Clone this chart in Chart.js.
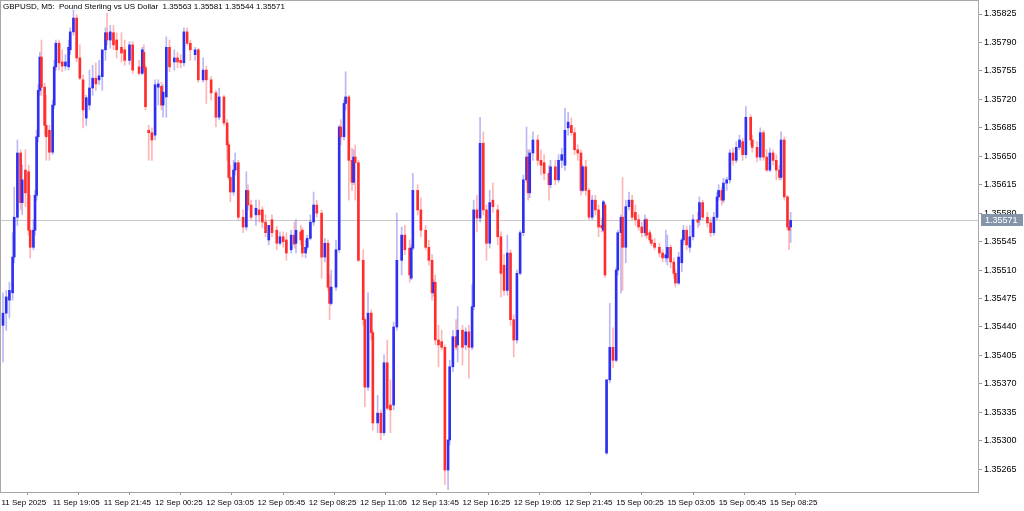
<!DOCTYPE html>
<html>
<head>
<meta charset="utf-8">
<script src="https://cdn.jsdelivr.net/npm/chart.js@4.4.1/dist/chart.umd.min.js"></script>
<style>
  html, body { margin: 0; padding: 0; background: #fff; }
</style>
</head>
<body>
<canvas id="chart" width="1024" height="511"></canvas>
<script>
const title = "GBPUSD, M5:  Pound Sterling vs US Dollar  1.35563 1.35581 1.35544 1.35571";

// one label every 32 bars (2h40m of M5)
const timeLabels = ["11 Sep 2025", "11 Sep 19:05", "11 Sep 21:45", "12 Sep 00:25", "12 Sep 03:05",
  "12 Sep 05:45", "12 Sep 08:25", "12 Sep 11:05", "12 Sep 13:45", "12 Sep 16:25", "12 Sep 19:05",
  "12 Sep 21:45", "15 Sep 00:25", "15 Sep 03:05", "15 Sep 05:45", "15 Sep 08:25"];
const barsPerLabel = 32;

const priceTicks = [1.35265, 1.35300, 1.35335, 1.35370, 1.35405, 1.35440, 1.35475, 1.35510, 1.35545,
  1.35580, 1.35615, 1.35650, 1.35685, 1.35720, 1.35755, 1.35790, 1.35825];

// bar number (M5 bars since 11 Sep 16:25) of each candle
const bars = [
  1,3,5,7,8,10,12,13,15,17, 18,20,21,22,23,24,25,27,28,30,
  32,33,34,36,38,40,42,43,45,47, 49,51,53,55,57,59,61,63,65,66,
  68,70,72,75,77,80,82,86,88,89, 90,92,94,96,98,100,101,103,105,108,
  110,112,114,116,118,121,123,126,128,131, 134,136,139,141,142,143,145,146,148,151,
  153,154,156,159,161,163,165,167,169,172, 174,176,178,181,183,184,187,188,190,191,
  193,195,197,200,202,204,205,206,209,211, 212,214,215,217,219,220,221,223,226,227,
  229,231,232,235,237,239,241,243,245,247, 250,252,255,256,257,260,262,265,267,269,
  270,271,273,275,277,279,280,282,284,285, 288,290,292,294,295,297,299,301,303,305,
  307,310,312,314,316,318,320,322,324,326, 328,329,330,332,335,337,339,342,343,346,
  348,350,352,354,356,358,360,362,363,365, 367,369,371,373,375,376,377,378,380,382,
  384,385,387,388,390,392,394,396,398,400, 402,403,405,406,408,411,413,415,416,418,
  420,421,423,425,426,428,430,432,435,436, 438,441,443,445,447,448,450,451,453,455,
  457,459,461,463,465,468,469,472,474,476, 478,480,482,484,486,487,489,491,492,493
];

const opens = [
  1.35442,1.35457,1.35473,1.35482,1.35526,1.35575,1.35654,1.35593,1.35633,1.35631,
  1.35559,1.35538,1.35559,1.35602,1.35674,1.35731,1.35772,1.35735,1.35688,1.35682,
  1.35655,1.35713,1.35760,1.35789,1.35766,1.35761,1.35760,1.35781,1.35803,1.35820,
  1.35771,1.35744,1.35697,1.35713,1.35734,1.35746,1.35744,1.35748,1.35781,1.35802,
  1.35793,1.35802,1.35793,1.35784,1.35781,1.35768,1.35787,1.35760,1.35752,1.35778,
  1.35759,1.35682,1.35679,1.35676,1.35735,1.35736,1.35713,1.35723,1.35784,1.35766,
  1.35771,1.35768,1.35765,1.35803,1.35789,1.35775,1.35781,1.35744,1.35756,1.35744,
  1.35728,1.35698,1.35723,1.35691,1.35664,1.35624,1.35606,1.35633,1.35642,1.35575,
  1.35563,1.35608,1.35590,1.35578,1.35584,1.35584,1.35569,1.35547,1.35572,1.35559,
  1.35543,1.35551,1.35547,1.35535,1.35553,1.35543,1.35557,1.35559,1.35531,1.35538,
  1.35549,1.35569,1.35590,1.35580,1.35526,1.35543,1.35489,1.35469,1.35489,1.35535,
  1.35686,1.35674,1.35715,1.35723,1.35645,1.35618,1.35649,1.35642,1.35522,1.35449,
  1.35366,1.35457,1.35433,1.35322,1.35334,1.35310,1.35396,1.35344,1.35344,1.35440,
  1.35522,1.35553,1.35537,1.35500,1.35537,1.35608,1.35584,1.35559,1.35538,1.35522,
  1.35482,1.35495,1.35424,1.35422,1.35415,1.35264,1.35301,1.35391,1.35428,1.35418,
  1.35436,1.35418,1.35434,1.35415,1.35465,1.35584,1.35574,1.35666,1.35584,1.35543,
  1.35596,1.35584,1.35551,1.35516,1.35485,1.35531,1.35449,1.35424,1.35506,1.35556,
  1.35621,1.35649,1.35605,1.35654,1.35670,1.35645,1.35642,1.35629,1.35615,1.35637,
  1.35621,1.35645,1.35639,1.35685,1.35688,1.35679,1.35658,1.35654,1.35608,1.35637,
  1.35608,1.35575,1.35596,1.35584,1.35565,1.35559,1.35590,1.35285,1.35375,1.35415,
  1.35399,1.35510,1.35556,1.35575,1.35538,1.35588,1.35596,1.35581,1.35572,1.35563,
  1.35556,1.35572,1.35556,1.35547,1.35543,1.35538,1.35531,1.35525,1.35525,1.35538,
  1.35520,1.35506,1.35494,1.35519,1.35547,1.35559,1.35538,1.35551,1.35572,1.35572,
  1.35593,1.35575,1.35568,1.35556,1.35575,1.35600,1.35608,1.35596,1.35617,1.35621,
  1.35654,1.35645,1.35661,1.35668,1.35652,1.35698,1.35670,1.35661,1.35649,1.35679,
  1.35649,1.35633,1.35654,1.35645,1.35633,1.35624,1.35670,1.35600,1.35563,1.35563
];

const highs = [
  1.35482,1.35485,1.35495,1.35556,1.35612,1.35670,1.35658,1.35639,1.35658,1.35639,
  1.35602,1.35572,1.35608,1.35682,1.35738,1.35778,1.35793,1.35740,1.35725,1.35688,
  1.35719,1.35768,1.35793,1.35793,1.35781,1.35775,1.35793,1.35808,1.35830,1.35824,
  1.35787,1.35750,1.35725,1.35756,1.35762,1.35765,1.35768,1.35768,1.35808,1.35826,
  1.35811,1.35811,1.35802,1.35802,1.35793,1.35791,1.35791,1.35768,1.35784,1.35787,
  1.35762,1.35688,1.35685,1.35744,1.35744,1.35741,1.35738,1.35797,1.35793,1.35781,
  1.35778,1.35775,1.35808,1.35808,1.35793,1.35784,1.35783,1.35771,1.35761,1.35748,
  1.35731,1.35734,1.35725,1.35695,1.35668,1.35639,1.35645,1.35654,1.35645,1.35584,
  1.35631,1.35615,1.35596,1.35596,1.35596,1.35588,1.35578,1.35565,1.35578,1.35564,
  1.35557,1.35557,1.35556,1.35559,1.35569,1.35572,1.35565,1.35562,1.35547,1.35553,
  1.35578,1.35606,1.35596,1.35584,1.35549,1.35547,1.35504,1.35510,1.35547,1.35688,
  1.35695,1.35719,1.35754,1.35725,1.35660,1.35658,1.35664,1.35645,1.35535,1.35451,
  1.35482,1.35461,1.35436,1.35356,1.35338,1.35406,1.35424,1.35375,1.35446,1.35580,
  1.35563,1.35565,1.35547,1.35541,1.35629,1.35615,1.35599,1.35565,1.35547,1.35529,
  1.35498,1.35504,1.35442,1.35436,1.35418,1.35301,1.35399,1.35436,1.35449,1.35465,
  1.35442,1.35439,1.35442,1.35492,1.35596,1.35602,1.35698,1.35680,1.35590,1.35608,
  1.35617,1.35590,1.35557,1.35529,1.35553,1.35535,1.35455,1.35510,1.35559,1.35627,
  1.35686,1.35658,1.35658,1.35680,1.35676,1.35658,1.35652,1.35639,1.35645,1.35645,
  1.35652,1.35660,1.35709,1.35704,1.35697,1.35685,1.35664,1.35658,1.35639,1.35645,
  1.35611,1.35602,1.35602,1.35590,1.35574,1.35596,1.35593,1.35375,1.35469,1.35439,
  1.35513,1.35559,1.35578,1.35624,1.35596,1.35606,1.35602,1.35590,1.35578,1.35569,
  1.35578,1.35574,1.35559,1.35553,1.35549,1.35543,1.35535,1.35559,1.35553,1.35541,
  1.35525,1.35510,1.35532,1.35549,1.35565,1.35564,1.35565,1.35578,1.35581,1.35600,
  1.35596,1.35581,1.35574,1.35581,1.35606,1.35615,1.35612,1.35623,1.35624,1.35658,
  1.35660,1.35668,1.35676,1.35672,1.35711,1.35701,1.35676,1.35668,1.35685,1.35682,
  1.35658,1.35660,1.35658,1.35652,1.35639,1.35680,1.35674,1.35602,1.35572,1.35581
];

const lows = [
  1.35397,1.35436,1.35451,1.35473,1.35519,1.35565,1.35584,1.35578,1.35588,1.35553,
  1.35525,1.35535,1.35553,1.35596,1.35668,1.35725,1.35725,1.35676,1.35645,1.35645,
  1.35652,1.35709,1.35756,1.35756,1.35754,1.35756,1.35756,1.35775,1.35799,1.35766,
  1.35744,1.35685,1.35688,1.35707,1.35725,1.35731,1.35738,1.35731,1.35768,1.35787,
  1.35783,1.35781,1.35771,1.35766,1.35762,1.35763,1.35752,1.35750,1.35750,1.35754,
  1.35707,1.35645,1.35645,1.35670,1.35713,1.35707,1.35698,1.35698,1.35754,1.35756,
  1.35759,1.35759,1.35761,1.35787,1.35768,1.35768,1.35741,1.35741,1.35715,1.35719,
  1.35686,1.35695,1.35688,1.35645,1.35621,1.35594,1.35602,1.35627,1.35572,1.35556,
  1.35559,1.35584,1.35572,1.35565,1.35569,1.35562,1.35551,1.35541,1.35551,1.35535,
  1.35541,1.35538,1.35522,1.35531,1.35537,1.35531,1.35541,1.35526,1.35525,1.35535,
  1.35547,1.35565,1.35575,1.35500,1.35520,1.35485,1.35449,1.35467,1.35485,1.35532,
  1.35664,1.35670,1.35707,1.35596,1.35608,1.35615,1.35596,1.35520,1.35442,1.35342,
  1.35362,1.35424,1.35313,1.35310,1.35301,1.35307,1.35338,1.35310,1.35338,1.35436,
  1.35504,1.35529,1.35495,1.35498,1.35535,1.35578,1.35551,1.35535,1.35516,1.35473,
  1.35478,1.35418,1.35391,1.35412,1.35246,1.35240,1.35295,1.35385,1.35412,1.35397,
  1.35393,1.35412,1.35377,1.35412,1.35461,1.35557,1.35569,1.35578,1.35522,1.35537,
  1.35581,1.35541,1.35477,1.35479,1.35479,1.35442,1.35403,1.35420,1.35504,1.35552,
  1.35618,1.35596,1.35599,1.35645,1.35639,1.35627,1.35621,1.35596,1.35611,1.35615,
  1.35618,1.35636,1.35633,1.35676,1.35676,1.35652,1.35645,1.35602,1.35606,1.35602,
  1.35572,1.35572,1.35578,1.35551,1.35557,1.35557,1.35501,1.35283,1.35371,1.35390,
  1.35397,1.35504,1.35482,1.35485,1.35519,1.35584,1.35572,1.35565,1.35559,1.35551,
  1.35552,1.35549,1.35543,1.35540,1.35535,1.35526,1.35520,1.35520,1.35516,1.35513,
  1.35500,1.35489,1.35492,1.35508,1.35541,1.35535,1.35532,1.35547,1.35562,1.35565,
  1.35572,1.35563,1.35551,1.35553,1.35572,1.35596,1.35590,1.35593,1.35608,1.35617,
  1.35639,1.35642,1.35658,1.35645,1.35648,1.35664,1.35655,1.35643,1.35645,1.35645,
  1.35631,1.35631,1.35639,1.35621,1.35621,1.35621,1.35596,1.35559,1.35535,1.35544
];

const closes = [
  1.35457,1.35477,1.35485,1.35526,1.35575,1.35654,1.35593,1.35621,1.35605,1.35559,
  1.35538,1.35559,1.35602,1.35674,1.35731,1.35772,1.35735,1.35688,1.35674,1.35655,
  1.35713,1.35760,1.35789,1.35765,1.35761,1.35766,1.35784,1.35803,1.35820,1.35771,
  1.35746,1.35707,1.35722,1.35734,1.35746,1.35739,1.35749,1.35781,1.35802,1.35793,
  1.35803,1.35787,1.35781,1.35777,1.35768,1.35787,1.35756,1.35752,1.35781,1.35759,
  1.35711,1.35679,1.35670,1.35738,1.35739,1.35713,1.35729,1.35784,1.35760,1.35771,
  1.35766,1.35765,1.35803,1.35789,1.35781,1.35781,1.35744,1.35756,1.35744,1.35728,
  1.35698,1.35723,1.35691,1.35664,1.35624,1.35606,1.35633,1.35642,1.35575,1.35563,
  1.35608,1.35590,1.35575,1.35586,1.35578,1.35569,1.35556,1.35565,1.35556,1.35543,
  1.35551,1.35545,1.35531,1.35553,1.35542,1.35559,1.35547,1.35531,1.35538,1.35549,
  1.35569,1.35590,1.35580,1.35526,1.35543,1.35489,1.35469,1.35489,1.35535,1.35686,
  1.35674,1.35715,1.35723,1.35645,1.35618,1.35649,1.35642,1.35522,1.35449,1.35366,
  1.35457,1.35433,1.35322,1.35334,1.35310,1.35396,1.35340,1.35338,1.35440,1.35522,
  1.35553,1.35535,1.35504,1.35537,1.35608,1.35584,1.35559,1.35538,1.35522,1.35482,
  1.35495,1.35424,1.35418,1.35415,1.35264,1.35301,1.35391,1.35428,1.35415,1.35436,
  1.35415,1.35434,1.35415,1.35465,1.35584,1.35574,1.35666,1.35584,1.35543,1.35593,
  1.35588,1.35551,1.35506,1.35485,1.35531,1.35449,1.35424,1.35506,1.35556,1.35621,
  1.35649,1.35605,1.35654,1.35670,1.35645,1.35639,1.35629,1.35615,1.35637,1.35621,
  1.35645,1.35652,1.35682,1.35692,1.35679,1.35658,1.35654,1.35608,1.35637,1.35608,
  1.35575,1.35596,1.35584,1.35563,1.35562,1.35594,1.35504,1.35375,1.35415,1.35399,
  1.35510,1.35556,1.35575,1.35538,1.35588,1.35596,1.35575,1.35572,1.35563,1.35556,
  1.35572,1.35553,1.35547,1.35543,1.35538,1.35531,1.35525,1.35529,1.35538,1.35520,
  1.35506,1.35494,1.35526,1.35547,1.35559,1.35541,1.35551,1.35572,1.35569,1.35593,
  1.35575,1.35568,1.35556,1.35575,1.35600,1.35608,1.35596,1.35617,1.35621,1.35654,
  1.35645,1.35661,1.35670,1.35652,1.35698,1.35670,1.35661,1.35649,1.35679,1.35649,
  1.35633,1.35654,1.35645,1.35633,1.35624,1.35670,1.35600,1.35563,1.35559,1.35571
];

const bullBody = "#2f2ff2";
const bearBody = "#ff2e2e";
const bullWick = "rgba(70, 70, 235, 0.38)";
const bearWick = "rgba(255, 60, 60, 0.38)";
const isBull = closes.map((c, i) => c >= opens[i]);
const lastPrice = closes[closes.length - 1];
const fontFamily = "'Liberation Sans', Arial, sans-serif";
const priceFont = { family: fontFamily, size: 9 };
const timeFont = { family: fontFamily, size: 8 };

const wickData = bars.map((b, i) => ({ x: b, y: [lows[i], highs[i]] }));
const bodyData = bars.map((b, i) => ({ x: b, y: [opens[i], closes[i]] }));

// price line, frame, last price tag and the symbol title
const terminalDecor = {
  id: "terminalDecor",
  beforeDatasetsDraw(chart) {
    const { ctx, chartArea: a, scales } = chart;
    const y = Math.round(scales.y.getPixelForValue(lastPrice)) + 0.5;
    ctx.save();
    ctx.strokeStyle = "#c8c8c8";
    ctx.lineWidth = 1;
    ctx.beginPath();
    ctx.moveTo(a.left, y);
    ctx.lineTo(a.right, y);
    ctx.stroke();
    ctx.restore();
  },
  afterDraw(chart) {
    const { ctx, chartArea: a, scales } = chart;
    ctx.save();
    ctx.strokeStyle = "#a8a8a8";
    ctx.lineWidth = 1;
    ctx.strokeRect(a.left - 0.5, a.top - 0.5, a.right - a.left + 1, a.bottom - a.top + 1);

    const y = Math.round(scales.y.getPixelForValue(lastPrice));
    ctx.fillStyle = "#8595a9";
    ctx.fillRect(a.right + 3, y - 6, 42, 12);
    ctx.fillStyle = "#ffffff";
    ctx.font = "9px " + fontFamily;
    ctx.textBaseline = "middle";
    ctx.textAlign = "left";
    ctx.fillText(lastPrice.toFixed(5), a.right + 7, y + 0.5);

    ctx.fillStyle = "#000000";
    ctx.textBaseline = "top";
    ctx.font = "8px " + fontFamily;
    ctx.fillText(title, 3, 3);
    ctx.restore();
  }
};

new Chart(document.getElementById("chart"), {
  type: "bar",
  data: {
    datasets: [
      {
        label: "body",
        data: bodyData,
        backgroundColor: isBull.map(b => (b ? bullBody : bearBody)),
        barThickness: 2,
        minBarLength: 1,
        grouped: false,
        order: 0
      },
      {
        label: "wick",
        data: wickData,
        backgroundColor: isBull.map(b => (b ? bullWick : bearWick)),
        barThickness: 1,
        grouped: false,
        order: 1
      }
    ]
  },
  options: {
    responsive: false,
    animation: false,
    layout: { padding: { top: 1, left: 1 } },
    plugins: {
      legend: { display: false },
      tooltip: { enabled: false }
    },
    scales: {
      x: {
        type: "linear",
        offset: false,
        min: -0.25,
        max: 610,
        afterBuildTicks: axis => {
          axis.ticks = timeLabels.map((_, i) => ({ value: i * barsPerLabel }));
        },
        afterFit: axis => {
          axis.height = 19;
          axis.paddingLeft = 0;
          axis.paddingRight = 0;
        },
        grid: { drawOnChartArea: false, drawTicks: true, tickLength: 3, color: "#9a9a9a" },
        border: { display: false },
        ticks: {
          autoSkip: false,
          maxRotation: 0,
          align: "start",
          padding: 3,
          color: "#000000",
          font: timeFont,
          callback: value => timeLabels[Math.round(value / barsPerLabel)]
        }
      },
      y: {
        position: "right",
        min: 1.35237,
        max: 1.35841,
        afterBuildTicks: axis => {
          axis.ticks = priceTicks.map(v => ({ value: v }));
        },
        afterFit: axis => {
          axis.width = 46;
          axis.paddingTop = 0;
          axis.paddingBottom = 0;
        },
        grid: { drawOnChartArea: false, drawTicks: true, tickLength: 4, color: "#9a9a9a" },
        border: { display: false },
        ticks: {
          padding: 2,
          color: "#000000",
          font: priceFont,
          callback: value => value.toFixed(5)
        }
      }
    }
  },
  plugins: [terminalDecor]
});
</script>
</body>
</html>
